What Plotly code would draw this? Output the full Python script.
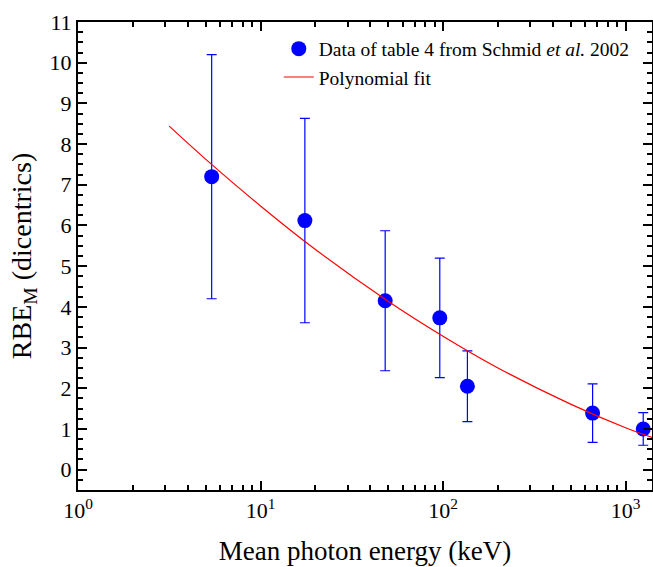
import plotly.graph_objects as go

# Data
energy_kev = [5.4, 17.5, 48.2, 96.0, 136.0, 660.0, 1250.0]
rbe_m = [7.2, 6.12, 4.15, 3.73, 2.05, 1.39, 1.0]
rbe_err = [3.0, 2.51, 1.72, 1.47, 0.87, 0.72, 0.4]

# Polynomial fit curve
fit_x = [3.16, 5.0, 10.0, 20.0, 50.0, 100.0, 200.0, 500.0, 1000.0, 1400.0]
fit_y = [8.44, 7.63, 6.48, 5.41, 4.14, 3.28, 2.50, 1.61, 1.03, 0.79]

x_tickvals = [1, 10, 100, 1000]
x_ticktext = ["10<sup>0</sup>", "10<sup>1</sup>", "10<sup>2</sup>", "10<sup>3</sup>"]
y_tickvals = list(range(0, 12))

FONT = "Liberation Serif"

fig = go.Figure()
fig.add_trace(go.Scatter(
    x=energy_kev, y=rbe_m, mode="markers",
    name="Data of table 4 from Schmid <i>et al.</i> 2002",
    marker=dict(color="#0000FF", size=15),
    error_y=dict(type="data", array=rbe_err, visible=True,
                 color="#0000FF", thickness=1.2, width=5),
    cliponaxis=False,
))
fig.add_trace(go.Scatter(
    x=fit_x, y=fit_y, mode="lines", name="Polynomial fit",
    line=dict(color="#FF0000", width=1.2, shape="spline"),
))

axis_common = dict(
    showline=True, linecolor="black", linewidth=2, mirror="ticks",
    ticks="inside", tickcolor="black", tickwidth=1.5, ticklen=9,
    showgrid=False, zeroline=False, automargin=False,
    tickfont=dict(family=FONT, size=22, color="black"),
)

fig.update_xaxes(
    type="log", range=[0, 3.145],
    tickvals=x_tickvals, ticktext=x_ticktext,
    minor=dict(ticks="inside", ticklen=5, dtick="D1", tickcolor="black", tickwidth=1.5, showgrid=False),
    title=dict(text="Mean photon energy (keV)", font=dict(family=FONT, size=27, color="black"), standoff=19),
    **axis_common,
)
fig.update_yaxes(
    range=[-0.5, 11], tickvals=y_tickvals,
    minor=dict(ticks="inside", ticklen=5, dtick=0.25, tickcolor="black", tickwidth=1.5, showgrid=False),
    title=dict(text="RBE<sub>M</sub> (dicentrics)", font=dict(family=FONT, size=28, color="black"), standoff=10),
    **axis_common,
)

fig.update_layout(
    width=653, height=567,
    margin=dict(l=78, r=1, t=22, b=77),
    paper_bgcolor="white", plot_bgcolor="white",
    showlegend=True,
    legend=dict(x=0.97, y=0.984, xanchor="right", yanchor="top",
                bgcolor="rgba(0,0,0,0)", font=dict(family=FONT, size=19.5, color="black"),
                tracegroupgap=0),
)

fig.write_html("out.html", config={"displayModeBar": False},
               post_script="document.body.style.margin='0';document.body.style.padding='0';document.body.style.overflow='hidden';")
